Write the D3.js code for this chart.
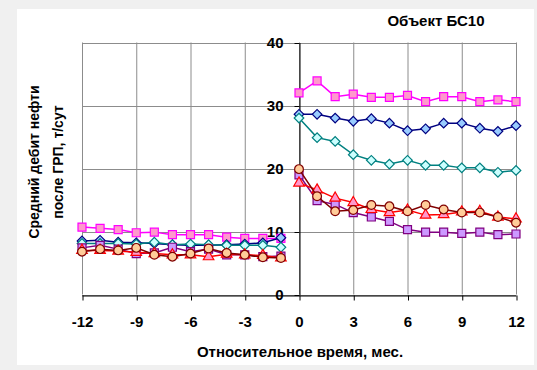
<!DOCTYPE html>
<html>
<head>
<meta charset="utf-8">
<script src="https://cdn.jsdelivr.net/npm/d3@7"></script>
<style>
  html, body { margin: 0; padding: 0; background: #f0f0f0; }
  svg { display: block; }
  text { font-family: "Liberation Sans", Arial, sans-serif; font-weight: bold; fill: #000; }
</style>
</head>
<body>
<svg id="chart" width="537" height="370"></svg>
<script>
// Months relative to the hydraulic fracturing (ГРП) date
const monthsBefore = [-12, -11, -10, -9, -8, -7, -6, -5, -4, -3, -2, -1];
const monthsAfter = [0, 1, 2, 3, 4, 5, 6, 7, 8, 9, 10, 11, 12];

// Average oil rate, t/day, for each well group: before / after
const pinkBefore   = [10.7, 10.5, 10.3, 9.8, 9.9, 9.5, 9.5, 9.5, 9.1, 8.9, 8.9, 8.9];
const pinkAfter    = [32.0, 33.9, 31.4, 31.8, 31.3, 31.3, 31.6, 30.6, 31.4, 31.4, 30.6, 30.9, 30.6];
const navyBefore   = [8.5, 8.6, 8.3, 8.2, 8.1, 7.9, 7.8, 7.8, 7.9, 8.0, 8.2, 9.0];
const navyAfter    = [28.6, 28.6, 28.0, 27.5, 27.9, 27.2, 26.0, 26.3, 27.2, 27.2, 26.4, 25.9, 26.8];
const tealBefore   = [8.1, 8.1, 8.1, 8.0, 8.3, 7.9, 8.0, 7.9, 7.8, 7.8, 7.8, 7.5];
const tealAfter    = [28.0, 24.9, 24.3, 22.2, 21.3, 20.7, 21.3, 20.5, 20.5, 20.1, 20.1, 19.4, 19.7];
const purpleBefore = [7.4, 7.8, 7.2, 6.5, 6.6, 7.5, 6.8, 7.2, 6.3, 6.3, 6.0, 6.1];
const purpleAfter  = [19.0, 14.9, 14.3, 13.0, 12.3, 11.6, 10.3, 9.9, 9.9, 9.7, 9.9, 9.5, 9.6];
const redBefore    = [7.0, 7.0, 6.9, 6.7, 6.5, 6.3, 6.3, 6.0, 6.4, 6.3, 6.2, 5.8];
const redAfter     = [17.7, 16.6, 15.3, 14.6, 13.5, 13.0, 13.4, 12.6, 12.7, 13.1, 13.2, 12.3, 12.0];
const brownBefore  = [6.8, 7.2, 7.0, 7.4, 6.3, 6.0, 6.5, 7.3, 6.6, 6.3, 5.9, 5.8];
const brownAfter   = [19.9, 15.6, 13.2, 13.4, 14.2, 14.0, 13.2, 14.2, 13.5, 13.0, 13.0, 12.3, 11.4];

const xTicks = [-12, -9, -6, -3, 0, 3, 6, 9, 12];
const yTicks = [0, 10, 20, 30, 40];

const series = [
  { before: pinkBefore,   after: pinkAfter,   stroke: "#ff00ff", fill: "#ff99cc", shape: "square" },
  { before: navyBefore,   after: navyAfter,   stroke: "#000080", fill: "#99ccff", shape: "diamond" },
  { before: tealBefore,   after: tealAfter,   stroke: "#008080", fill: "#ccffff", shape: "diamond" },
  { before: purpleBefore, after: purpleAfter, stroke: "#800080", fill: "#cc99ff", shape: "square" },
  { before: redBefore,    after: redAfter,    stroke: "#ff0000", fill: "#ff99cc", shape: "triangle" },
  { before: brownBefore,  after: brownAfter,  stroke: "#800000", fill: "#ffcc99", shape: "circle" }
];

const svg = d3.select("#chart");

// White panel on the grey page
svg.append("rect").attr("x", 17).attr("y", 9).attr("width", 517).attr("height", 356).attr("fill", "#ffffff");

const x = d3.scaleLinear().domain([-12, 12]).range([82, 516]);
const y = d3.scaleLinear().domain([0, 40]).range([294.5, 42.5]);

// Grid
const grid = svg.append("g");
grid.selectAll("line.v").data(xTicks).join("line")
  .attr("x1", d => x(d) + 0.5).attr("x2", d => x(d) + 0.5)
  .attr("y1", y(40)).attr("y2", y(0))
  .attr("stroke", "#8c8c8c").attr("stroke-width", 1);
grid.selectAll("line.h").data(yTicks).join("line")
  .attr("x1", x(-12)).attr("x2", x(12))
  .attr("y1", d => Math.round(y(d)) + 0.5).attr("y2", d => Math.round(y(d)) + 0.5)
  .attr("stroke", "#8c8c8c").attr("stroke-width", 1);

const fmt = d => String(d); // plain hyphen for negative months

// X axis along zero, ticks pointing down
const xAxis = svg.append("g")
  .attr("transform", `translate(0,${Math.round(y(0)) + 0.5})`)
  .call(d3.axisBottom(x).tickValues(xTicks).tickSize(5).tickSizeOuter(0).tickPadding(16).tickFormat(fmt));
xAxis.select(".domain").attr("stroke", "#000").attr("stroke-width", 1);
xAxis.selectAll(".tick line").attr("stroke", "#000").attr("transform", "translate(0.5,0)");
xAxis.selectAll(".tick text").attr("font-size", 15).attr("font-family", "Liberation Sans, Arial, sans-serif").attr("font-weight", "bold").attr("fill", "#000");

// Y axis at month zero, ticks pointing left
const yAxis = svg.append("g")
  .attr("transform", `translate(${Math.round(x(0)) + 0.5},0)`)
  .call(d3.axisLeft(y).tickValues(yTicks).tickSize(5).tickSizeOuter(0).tickPadding(11).tickFormat(fmt));
yAxis.select(".domain").attr("stroke", "#000").attr("stroke-width", 1);
yAxis.selectAll(".tick line").attr("stroke", "#000").attr("transform", "translate(0,0.5)");
yAxis.selectAll(".tick text").attr("font-size", 15).attr("font-family", "Liberation Sans, Arial, sans-serif").attr("font-weight", "bold").attr("fill", "#000");

// Series: separate polylines before and after the treatment
const line = d3.line().x(d => x(d[0])).y(d => y(d[1]));
// Diamonds are squares turned by 45 degrees
const symbolFor = { square: d3.symbolSquare, diamond: d3.symbolSquare, triangle: d3.symbolTriangle, circle: d3.symbolCircle };
const sizeFor = { square: 64, diamond: 46, triangle: 48, circle: 60 };

const plot = svg.append("g");
series.forEach(s => {
  const parts = [d3.zip(monthsBefore, s.before), d3.zip(monthsAfter, s.after)];
  parts.forEach(pts => {
    plot.append("path").attr("d", line(pts))
      .attr("fill", "none").attr("stroke", s.stroke).attr("stroke-width", 1.5);
  });
  const sym = d3.symbol().type(symbolFor[s.shape]).size(sizeFor[s.shape]);
  const rot = s.shape === "diamond" ? " rotate(45)" : "";
  plot.append("g").selectAll("path").data(parts.flat()).join("path")
    .attr("d", sym)
    .attr("transform", d => `translate(${x(d[0])},${y(d[1])})${rot}`)
    .attr("fill", s.fill).attr("stroke", s.stroke).attr("stroke-width", 1.2);
});

// Titles
svg.append("text").attr("x", 436).attr("y", 26).attr("text-anchor", "middle")
  .attr("font-size", 15).text("Объект БС10");
svg.append("text").attr("x", 300).attr("y", 357).attr("text-anchor", "middle")
  .attr("font-size", 15).text("Относительное время, мес.");
const yt = svg.append("text").attr("transform", "translate(39,162) rotate(-90)").attr("text-anchor", "middle").attr("font-size", 14);
yt.append("tspan").attr("x", 0).attr("dy", 0).text("Средний дебит нефти");
yt.append("tspan").attr("x", 0).attr("dy", 24).text("после ГРП, т/сут");
</script>
</body>
</html>
